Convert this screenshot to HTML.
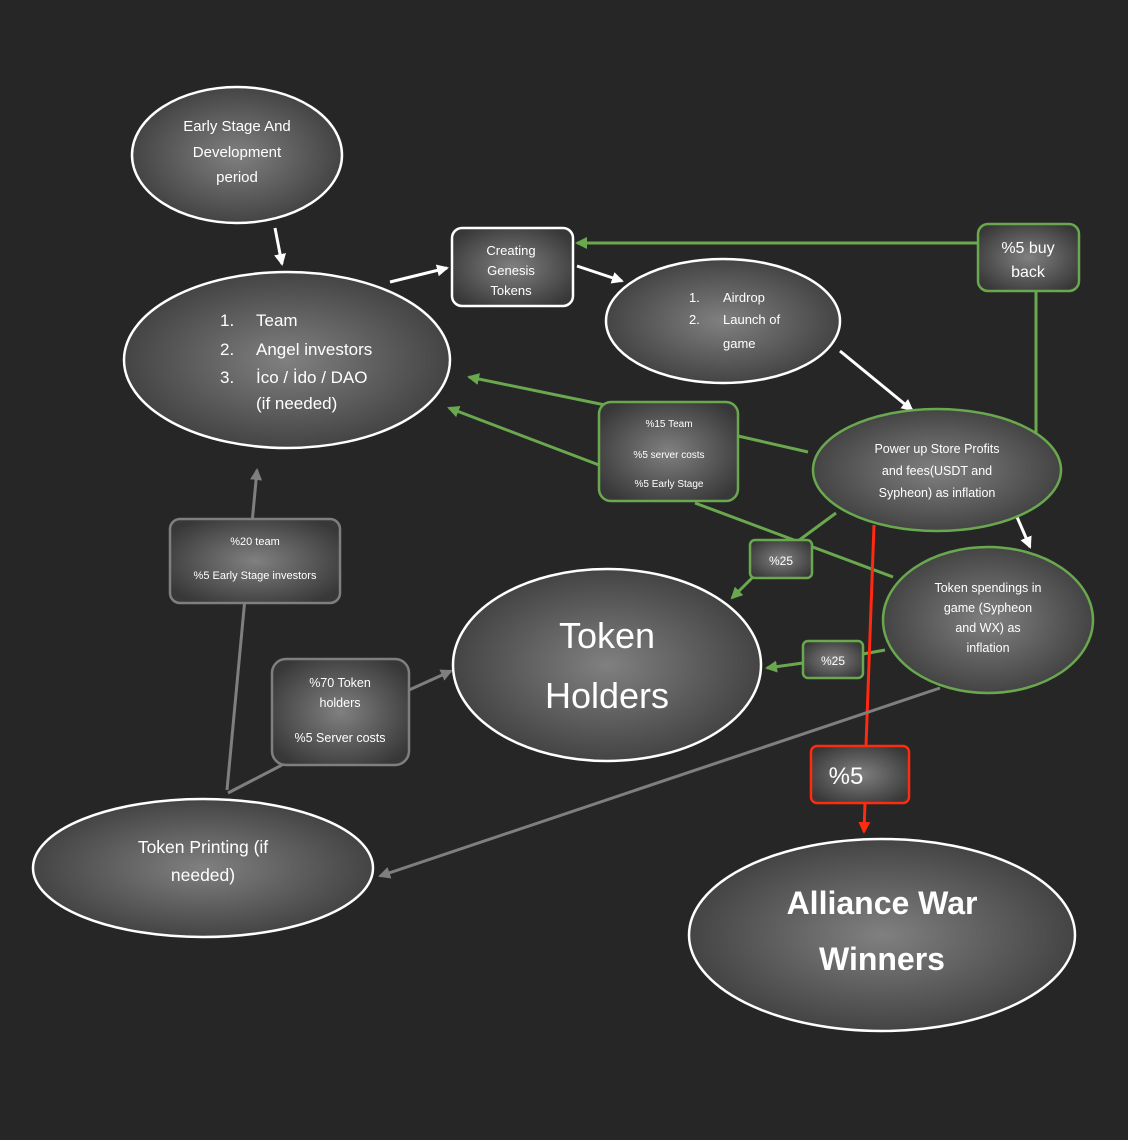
<!DOCTYPE html>
<html><head><meta charset="utf-8"><style>
html,body{margin:0;padding:0;background:#262626;}
svg{display:block}
text{font-family:"Liberation Sans",sans-serif;fill:#fff;text-anchor:middle;}
</style></head><body>
<svg width="1128" height="1140" viewBox="0 0 1128 1140" xmlns="http://www.w3.org/2000/svg">
<defs>
<radialGradient id="g" cx="50%" cy="50%" r="60%">
<stop offset="0" stop-color="#808080"/><stop offset="1" stop-color="#383838"/>
</radialGradient>
<marker id="aw" markerWidth="12" markerHeight="12" refX="10" refY="6" orient="auto" markerUnits="userSpaceOnUse"><path d="M0,0 L12,6 L0,12 z" fill="#fff"/></marker>
<marker id="ag" markerWidth="12" markerHeight="12" refX="10" refY="6" orient="auto" markerUnits="userSpaceOnUse"><path d="M0,0 L12,6 L0,12 z" fill="#6aa84f"/></marker>
<marker id="agr" markerWidth="12" markerHeight="12" refX="10" refY="6" orient="auto" markerUnits="userSpaceOnUse"><path d="M0,0 L12,6 L0,12 z" fill="#7f7f7f"/></marker>
<marker id="ar" markerWidth="12" markerHeight="12" refX="10" refY="6" orient="auto" markerUnits="userSpaceOnUse"><path d="M0,0 L12,6 L0,12 z" fill="#ff2a10"/></marker>
</defs>

<g stroke="#fff" stroke-width="3" fill="none">
<line x1="275" y1="228" x2="282" y2="264" marker-end="url(#aw)"/>
<line x1="390" y1="282" x2="447" y2="268" marker-end="url(#aw)"/>
<line x1="577" y1="266" x2="622" y2="281" marker-end="url(#aw)"/>
<line x1="840" y1="351" x2="912" y2="410" marker-end="url(#aw)"/>
<line x1="1014" y1="510" x2="1030" y2="547" marker-end="url(#aw)"/>
</g>
<g stroke="#6aa84f" stroke-width="3" fill="none">
<line x1="978" y1="243" x2="577" y2="243" marker-end="url(#ag)"/>
<polyline points="1036,291 1036,437 1022,437"/>
<line x1="808" y1="452" x2="738" y2="436"/>
<line x1="605" y1="405" x2="469" y2="377" marker-end="url(#ag)"/>
<line x1="599" y1="465" x2="449" y2="408" marker-end="url(#ag)"/>
<line x1="695" y1="503" x2="893" y2="577"/>
<line x1="836" y1="513" x2="798" y2="541"/>
<line x1="752" y1="578" x2="732" y2="598" marker-end="url(#ag)"/>
<line x1="885" y1="650" x2="863" y2="654"/>
<line x1="803" y1="663" x2="767" y2="668" marker-end="url(#ag)"/>
</g>
<g stroke="#ff2a10" stroke-width="3" fill="none">
<line x1="874" y1="525" x2="866" y2="746"/>
<line x1="865" y1="803" x2="864" y2="832" marker-end="url(#ar)"/>
</g>
<g stroke="#7f7f7f" stroke-width="3" fill="none">
<line x1="227" y1="790" x2="257" y2="470" marker-end="url(#agr)"/>
<line x1="228" y1="793" x2="282" y2="765"/>
<line x1="409" y1="690" x2="451" y2="671" marker-end="url(#agr)"/>
<line x1="940" y1="688" x2="380" y2="876" marker-end="url(#agr)"/>
</g>

<g fill="url(#g)" stroke-width="2.5">
<ellipse cx="237" cy="155" rx="105" ry="68" stroke="#fff"/>
<ellipse cx="287" cy="360" rx="163" ry="88" stroke="#fff"/>
<rect x="452" y="228" width="121" height="78" rx="10" stroke="#fff"/>
<ellipse cx="723" cy="321" rx="117" ry="62" stroke="#fff"/>
<ellipse cx="937" cy="470" rx="124" ry="61" stroke="#6aa84f"/>
<rect x="978" y="224" width="101" height="67" rx="10" stroke="#6aa84f"/>
<rect x="599" y="402" width="139" height="99" rx="12" stroke="#6aa84f"/>
<rect x="750" y="540" width="62" height="38" rx="5" stroke="#6aa84f"/>
<ellipse cx="988" cy="620" rx="105" ry="73" stroke="#6aa84f"/>
<rect x="803" y="641" width="60" height="37" rx="5" stroke="#6aa84f"/>
<ellipse cx="607" cy="665" rx="154" ry="96" stroke="#fff"/>
<rect x="811" y="746" width="98" height="57" rx="6" stroke="#ff2a10"/>
<ellipse cx="882" cy="935" rx="193" ry="96" stroke="#fff"/>
<rect x="170" y="519" width="170" height="84" rx="10" stroke="#7f7f7f"/>
<rect x="272" y="659" width="137" height="106" rx="14" stroke="#7f7f7f"/>
<ellipse cx="203" cy="868" rx="170" ry="69" stroke="#fff"/>
</g>

<g font-size="15">
<text x="237" y="131">Early Stage And</text>
<text x="237" y="157">Development</text>
<text x="237" y="182">period</text>
</g>
<g font-size="17">
<text x="220" y="326" style="text-anchor:start">1.</text><text x="256" y="326" style="text-anchor:start">Team</text>
<text x="220" y="355" style="text-anchor:start">2.</text><text x="256" y="355" style="text-anchor:start">Angel investors</text>
<text x="220" y="383" style="text-anchor:start">3.</text><text x="256" y="383" style="text-anchor:start">İco / İdo / DAO</text>
<text x="256" y="409" style="text-anchor:start">(if needed)</text>
</g>
<g font-size="13">
<text x="511" y="255">Creating</text>
<text x="511" y="275">Genesis</text>
<text x="511" y="295">Tokens</text>
</g>
<g font-size="13">
<text x="689" y="302" style="text-anchor:start">1.</text><text x="723" y="302" style="text-anchor:start">Airdrop</text>
<text x="689" y="324" style="text-anchor:start">2.</text><text x="723" y="324" style="text-anchor:start">Launch of</text>
<text x="723" y="348" style="text-anchor:start">game</text>
</g>
<g font-size="16"><text x="1028" y="253">%5 buy</text><text x="1028" y="277">back</text></g>
<g font-size="10"><text x="669" y="427">%15 Team</text><text x="669" y="458">%5 server costs</text><text x="669" y="487">%5 Early Stage</text></g>
<g font-size="12.5"><text x="937" y="453">Power up Store Profits</text><text x="937" y="475">and fees(USDT and</text><text x="937" y="497">Sypheon) as inflation</text></g>
<text x="781" y="565" font-size="12">%25</text>
<text x="833" y="665" font-size="12">%25</text>
<g font-size="12.5"><text x="988" y="592">Token spendings in</text><text x="988" y="612">game (Sypheon</text><text x="988" y="632">and WX) as</text><text x="988" y="652">inflation</text></g>
<g font-size="36"><text x="607" y="648">Token</text><text x="607" y="708">Holders</text></g>
<text x="846" y="784" font-size="24">%5</text>
<g font-size="32" font-weight="bold"><text x="882" y="914">Alliance War</text><text x="882" y="970">Winners</text></g>
<g font-size="11"><text x="255" y="545">%20 team</text><text x="255" y="579">%5 Early Stage investors</text></g>
<g font-size="12.5"><text x="340" y="687">%70 Token</text><text x="340" y="707">holders</text><text x="340" y="742">%5 Server costs</text></g>
<g font-size="17.5"><text x="203" y="853">Token Printing (if</text><text x="203" y="881">needed)</text></g>
</svg>
</body></html>
